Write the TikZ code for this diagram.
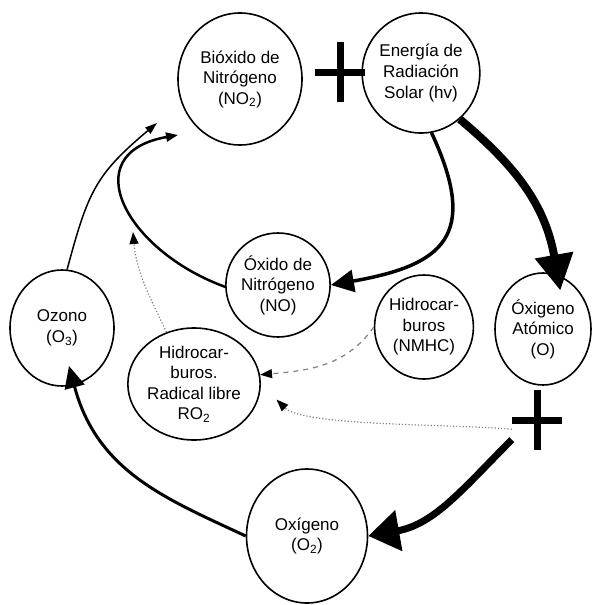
\documentclass[tikz,border=0pt]{standalone}
\usepackage{fontspec}
\setmainfont{Liberation Sans}
\usetikzlibrary{positioning,shapes.geometric,arrows.meta}
\tikzset{bubble/.style={ellipse, draw, line width=1.6pt, inner sep=0pt, align=center, font=\fontsize{17}{20.5}\selectfont},
  plussign/.style={minimum width=50pt, minimum height=60pt, inner sep=0pt, path picture={\draw[line width=7pt] (path picture bounding box.north) -- (path picture bounding box.south) (path picture bounding box.west) -- (path picture bounding box.east);}},
  faint/.style={gray, line width=1.2pt, -{Triangle[length=12pt, width=9pt, color=black]}}}

\begin{document}
\begin{tikzpicture}[x=1pt, y=1pt, on grid]
    \useasboundingbox (0,0) rectangle (592,-605);
    \node[bubble, minimum width=124pt, minimum height=132pt] (no2) at (240,-79) {Bióxido de\\Nitrógeno\\(NO\textsubscript{2})};
    \node[plussign, above right=7pt and 100pt of no2] (plusA) {};
    \node[bubble, minimum width=108pt, minimum height=120pt, above right=6pt and 181pt of no2] (solar) {Energía de\\Radiación\\Solar (hv)};
    \node[bubble, minimum width=94pt, minimum height=104pt, below right=206pt and 38pt of no2] (no) {Óxido de\\Nitrógeno\\(NO)};
    \node[bubble, minimum width=84pt, minimum height=104pt, below right=42pt and 146pt of no] (nmhc) {Hidrocar-\\buros\\(NMHC)};
    \node[bubble, minimum width=104pt, minimum height=116pt, below left=249pt and 178pt of no2] (ozone) {Ozono\\(O\textsubscript{3})};
    \node[bubble, minimum width=110pt, minimum height=112pt, below right=56pt and 132pt of ozone] (ro2) {Hidrocar-\\buros.\\Radical libre\\RO\textsubscript{2}};
    \node[bubble, minimum width=96pt, minimum height=112pt, below right=256pt and 122pt of solar] (oat) {Óxigeno\\Atómico\\(O)};
    \node[plussign, below left=91pt and 6pt of oat] (plusB) {};
    \node[bubble, minimum width=121pt, minimum height=134pt, below right=152pt and 113pt of ro2] (o2) {Oxígeno\\(O\textsubscript{2})};
    \coordinate[below left=44pt and 83pt of no2] (tipA);
    \coordinate[below left=56pt and 62pt of no2] (tipB);
    \coordinate[above left=152pt and 61pt of ro2] (tipC);
    % main cycle
    \draw[line width=3.5pt, -{Triangle[length=23pt, width=22pt]}] (solar.280) to[out=-65, in=10, looseness=1.6] (no.east);
    \draw[line width=2.5pt, -{Triangle[length=12pt, width=9pt]}] (no.182) to[out=160, in=190, looseness=1.7] (tipB);
    \draw[line width=1.5pt, -{Triangle[length=12pt, width=8pt]}] (ozone.85) to[out=75, in=220, looseness=1.2] (tipA);
    \draw[line width=8pt, -{Triangle[length=36pt, width=37pt]}, shorten >=-16pt] (solar.-50) to[out=-40, in=100] (oat.75);
    \draw[line width=7pt, -{Triangle[length=31pt, width=40pt]}] (plusB.218) to[out=225, in=10] (o2.east);
    \draw[line width=3pt, -{Triangle[length=22pt, width=20pt]}, shorten >=-20pt] (o2.west) to[out=155, in=-75] (ozone.-78);
    % side reactions
    \draw[faint, dotted] (ro2.118) to[out=115, in=-85] (tipC);
    \draw[faint, dash pattern=on 5pt off 5pt] (nmhc.west) to[out=235, in=5] (ro2.8);
    \draw[faint, dotted, shorten >=22pt] (plusB.200) to[out=175, in=-45, looseness=0.6] (ro2.east);
\end{tikzpicture}
\end{document}
